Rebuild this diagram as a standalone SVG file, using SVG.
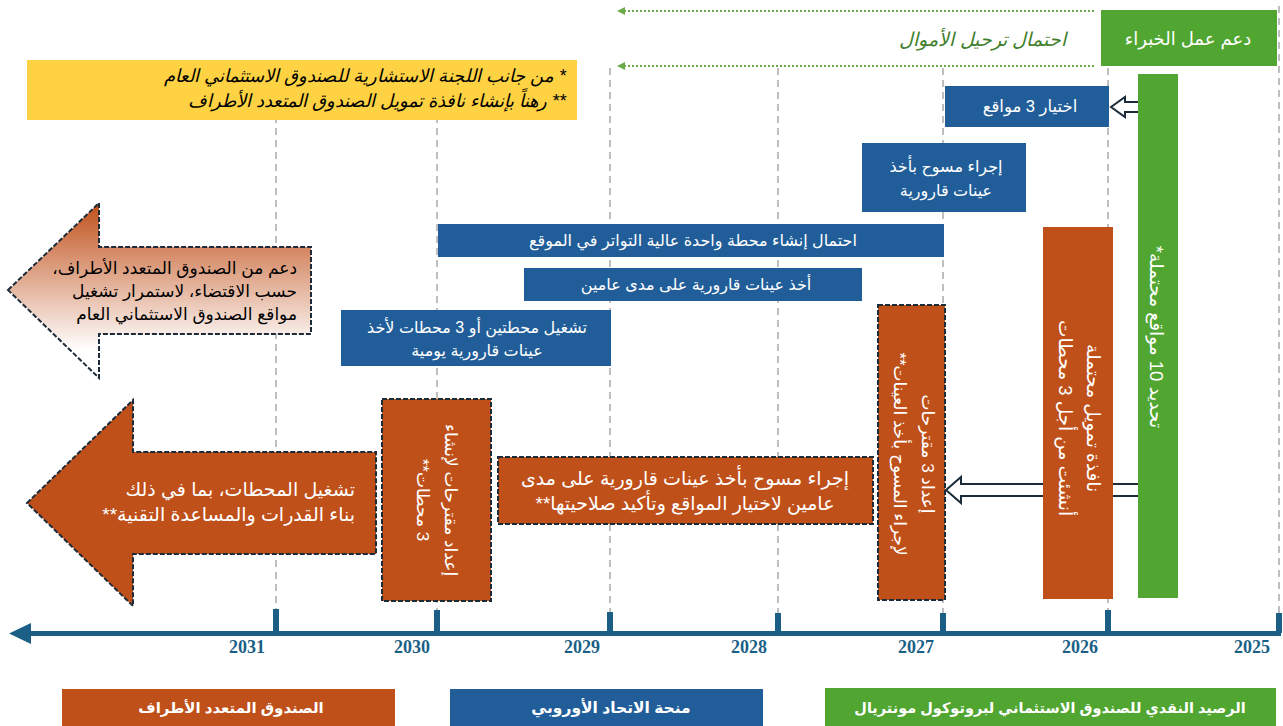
<svg xmlns="http://www.w3.org/2000/svg" width="1283" height="726" viewBox="0 0 1283 726">
<style>
text{font-family:'Liberation Sans','DejaVu Sans',sans-serif;}
.w{fill:#fff;}
.k{fill:#000;}
.grid{stroke:#BFBFBF;stroke-width:2;stroke-dasharray:7 5;fill:none;}
.blue{fill:#215E99;}
.orange{fill:#C0501A;}
.green{fill:#50A630;}
.dash{stroke:#1C2B3A;stroke-width:2;stroke-dasharray:5 2;}
.hollow{fill:#fff;stroke:#1C2B3A;stroke-width:2;}
.dot{stroke:#6BAA4B;stroke-width:2;stroke-dasharray:2 2;fill:none;}
.yr{font-family:'Liberation Serif',serif;font-weight:bold;font-size:18px;fill:#1B5F86;}
.leg{fill:#fff;font-weight:bold;}
</style>
<defs>
<linearGradient id="grad" x1="0" y1="203" x2="0" y2="350" gradientUnits="userSpaceOnUse">
<stop offset="0" stop-color="#C0501A"/>
<stop offset="1" stop-color="#FFFFFF"/>
</linearGradient>
</defs>
<rect width="1283" height="726" fill="#fff"/>
<g id="gridlines">
<line class="grid" x1="276" y1="68" x2="276" y2="630"/>
<line class="grid" x1="437" y1="68" x2="437" y2="630"/>
<line class="grid" x1="610" y1="68" x2="610" y2="630"/>
<line class="grid" x1="778" y1="68" x2="778" y2="630"/>
<line class="grid" x1="943" y1="68" x2="943" y2="630"/>
<line class="grid" x1="1108" y1="68" x2="1108" y2="630"/>
<line class="grid" x1="1279" y1="6" x2="1279" y2="630"/>
</g>
<g id="connectors">
<line class="dot" x1="624" y1="11" x2="1094" y2="11"/>
<polygon points="617,11 625,7 625,15" fill="#6BAA4B"/>
<line class="dot" x1="624" y1="66" x2="1094" y2="66"/>
<polygon points="617,66 625,62 625,70" fill="#6BAA4B"/>
<polygon class="hollow" points="1111,107 1125,97 1125,102 1140,102 1140,112 1125,112 1125,117"/>
<polygon class="hollow" points="946,490 961,477 961,484 1140,484 1140,496 961,496 961,503"/>
</g>
<g id="timeline">
<rect x="22" y="631" width="1259" height="5" fill="#1B5F86"/>
<polygon points="9,633.5 31,623 31,644" fill="#1B5F86"/>
<rect x="273" y="609" width="6" height="24" fill="#1B5F86"/>
<rect x="434" y="610" width="6" height="23" fill="#1B5F86"/>
<rect x="607" y="612" width="6" height="21" fill="#1B5F86"/>
<rect x="775" y="613" width="6" height="20" fill="#1B5F86"/>
<rect x="940" y="613" width="6" height="20" fill="#1B5F86"/>
<rect x="1105" y="610" width="6" height="23" fill="#1B5F86"/>
<rect x="1276" y="613" width="6" height="20" fill="#1B5F86"/>
<text class="yr" x="247" y="653" text-anchor="middle">2031</text>
<text class="yr" x="412" y="653" text-anchor="middle">2030</text>
<text class="yr" x="582" y="653" text-anchor="middle">2029</text>
<text class="yr" x="749" y="653" text-anchor="middle">2028</text>
<text class="yr" x="916" y="653" text-anchor="middle">2027</text>
<text class="yr" x="1080" y="653" text-anchor="middle">2026</text>
<text class="yr" x="1252" y="653" text-anchor="middle">2025</text>
</g>
<g id="expert">
<rect class="green" x="1101" y="10" width="176" height="56"/>
<text class="w" x="1188" y="45" text-anchor="middle" direction="rtl" style="font-size:18px">دعم عمل الخبراء</text>
</g>
<g id="carryover">
<text x="1066" y="46" direction="rtl" text-anchor="start" font-style="italic" fill="#3F7E2C" style="font-size:19px">احتمال ترحيل الأموال</text>
</g>
<g id="notes">
<rect x="27" y="60" width="550" height="60" fill="#FFD243"/>
<text class="k" x="566" y="82" direction="rtl" text-anchor="start" font-style="italic" style="font-size:18px">* من جانب اللجنة الاستشارية للصندوق الاستثماني العام</text>
<text class="k" x="566" y="107" direction="rtl" text-anchor="start" font-style="italic" style="font-size:18px">** رهناً بإنشاء نافذة تمويل الصندوق المتعدد الأطراف</text>
</g>
<g id="select3">
<rect class="blue" x="945" y="86" width="164" height="41"/>
<text class="w" x="1030" y="112" text-anchor="middle" direction="rtl" style="font-size:16.5px">اختيار 3 مواقع</text>
</g>
<g id="identify10">
<rect class="green" x="1138" y="74" width="40" height="524"/>
<text class="w" transform="translate(1157,337) rotate(90)" text-anchor="middle" direction="rtl" y="7" style="font-size:18.5px">تحديد 10 مواقع محتملة*</text>
</g>
<g id="window">
<rect class="orange" x="1043" y="227" width="70" height="372"/>
<text class="w" transform="translate(1079,418) rotate(90)" text-anchor="middle" direction="rtl" style="font-size:18.5px"><tspan x="0" y="-8">نافذة تمويل محتملة</tspan><tspan x="0" y="20">أنشئت من أجل 3 محطات</tspan></text>
</g>
<g id="flask-survey">
<rect class="blue" x="862" y="143" width="164" height="69"/>
<text class="w" text-anchor="middle" direction="rtl" style="font-size:16px"><tspan x="946" y="172">إجراء مسوح بأخذ</tspan><tspan x="946" y="196">عينات قارورية</tspan></text>
</g>
<g id="high-freq">
<rect class="blue" x="438" y="224" width="506" height="33"/>
<text class="w" x="693" y="246" text-anchor="middle" direction="rtl" style="font-size:16px">احتمال إنشاء محطة واحدة عالية التواتر في الموقع</text>
</g>
<g id="two-year">
<rect class="blue" x="524" y="268" width="338" height="33"/>
<text class="w" x="696" y="290" text-anchor="middle" direction="rtl" style="font-size:16px">أخذ عينات قارورية على مدى عامين</text>
</g>
<g id="daily">
<rect class="blue" x="341" y="310" width="270" height="56"/>
<text class="w" text-anchor="middle" direction="rtl" style="font-size:16px"><tspan x="477" y="333">تشغيل محطتين أو 3 محطات لأخذ</tspan><tspan x="477" y="356">عينات قارورية يومية</tspan></text>
</g>
<g id="proposals-survey">
<rect class="orange dash" x="878" y="305" width="67" height="295"/>
<text class="w" transform="translate(913,454) rotate(90)" text-anchor="middle" direction="rtl" style="font-size:17px"><tspan x="0" y="-9">إعداد 3 مقترحات</tspan><tspan x="0" y="19">لإجراء المسوح بأخذ العينات**</tspan></text>
</g>
<g id="survey-validate">
<rect class="orange dash" x="498" y="457" width="375" height="67"/>
<text class="w" text-anchor="middle" direction="rtl" style="font-size:19px"><tspan x="685" y="485">إجراء مسوح بأخذ عينات قارورية على مدى</tspan><tspan x="685" y="510">عامين لاختيار المواقع وتأكيد صلاحيتها**</tspan></text>
</g>
<g id="proposals-stations">
<rect class="orange dash" x="382" y="399" width="109" height="202"/>
<text class="w" transform="translate(436,500) rotate(90)" text-anchor="middle" direction="rtl" style="font-size:17px"><tspan x="0" y="-9">إعداد مقترحات لإنشاء</tspan><tspan x="0" y="19">3 محطات**</tspan></text>
</g>
<g id="operate">
<path class="orange dash" d="M27,503 L133,400 L133,452 L376,452 L376,554 L133,554 L133,606 Z"/>
<text class="w" direction="rtl" text-anchor="start" style="font-size:19px"><tspan x="355" y="496">تشغيل المحطات، بما في ذلك</tspan><tspan x="355" y="521">بناء القدرات والمساعدة التقنية**</tspan></text>
</g>
<g id="mlf-support">
<path d="M8,290 L99,203 L99,247 L311,247 L311,334 L99,334 L99,378 Z" fill="url(#grad)" stroke="#1C2B3A" stroke-width="2" stroke-dasharray="5 2"/>
<text class="k" direction="rtl" text-anchor="start" style="font-size:17px"><tspan x="297" y="274">دعم من الصندوق المتعدد الأطراف،</tspan><tspan x="297" y="297">حسب الاقتضاء، لاستمرار تشغيل</tspan><tspan x="297" y="320">مواقع الصندوق الاستثماني العام</tspan></text>
</g>
<g id="legend">
<rect class="orange" x="62" y="689" width="333" height="37"/>
<text class="leg" x="231" y="713" text-anchor="middle" direction="rtl" style="font-size:15px">الصندوق المتعدد الأطراف</text>
<rect class="blue" x="450" y="689" width="313" height="37"/>
<text class="leg" x="611" y="713" text-anchor="middle" direction="rtl" style="font-size:15.5px">منحة الاتحاد الأوروبي</text>
<rect class="green" x="825" y="688" width="451" height="38"/>
<text class="leg" x="1050" y="713" text-anchor="middle" direction="rtl" style="font-size:14.5px">الرصيد النقدي للصندوق الاستثماني لبروتوكول مونتريال</text>
</g>
</svg>
